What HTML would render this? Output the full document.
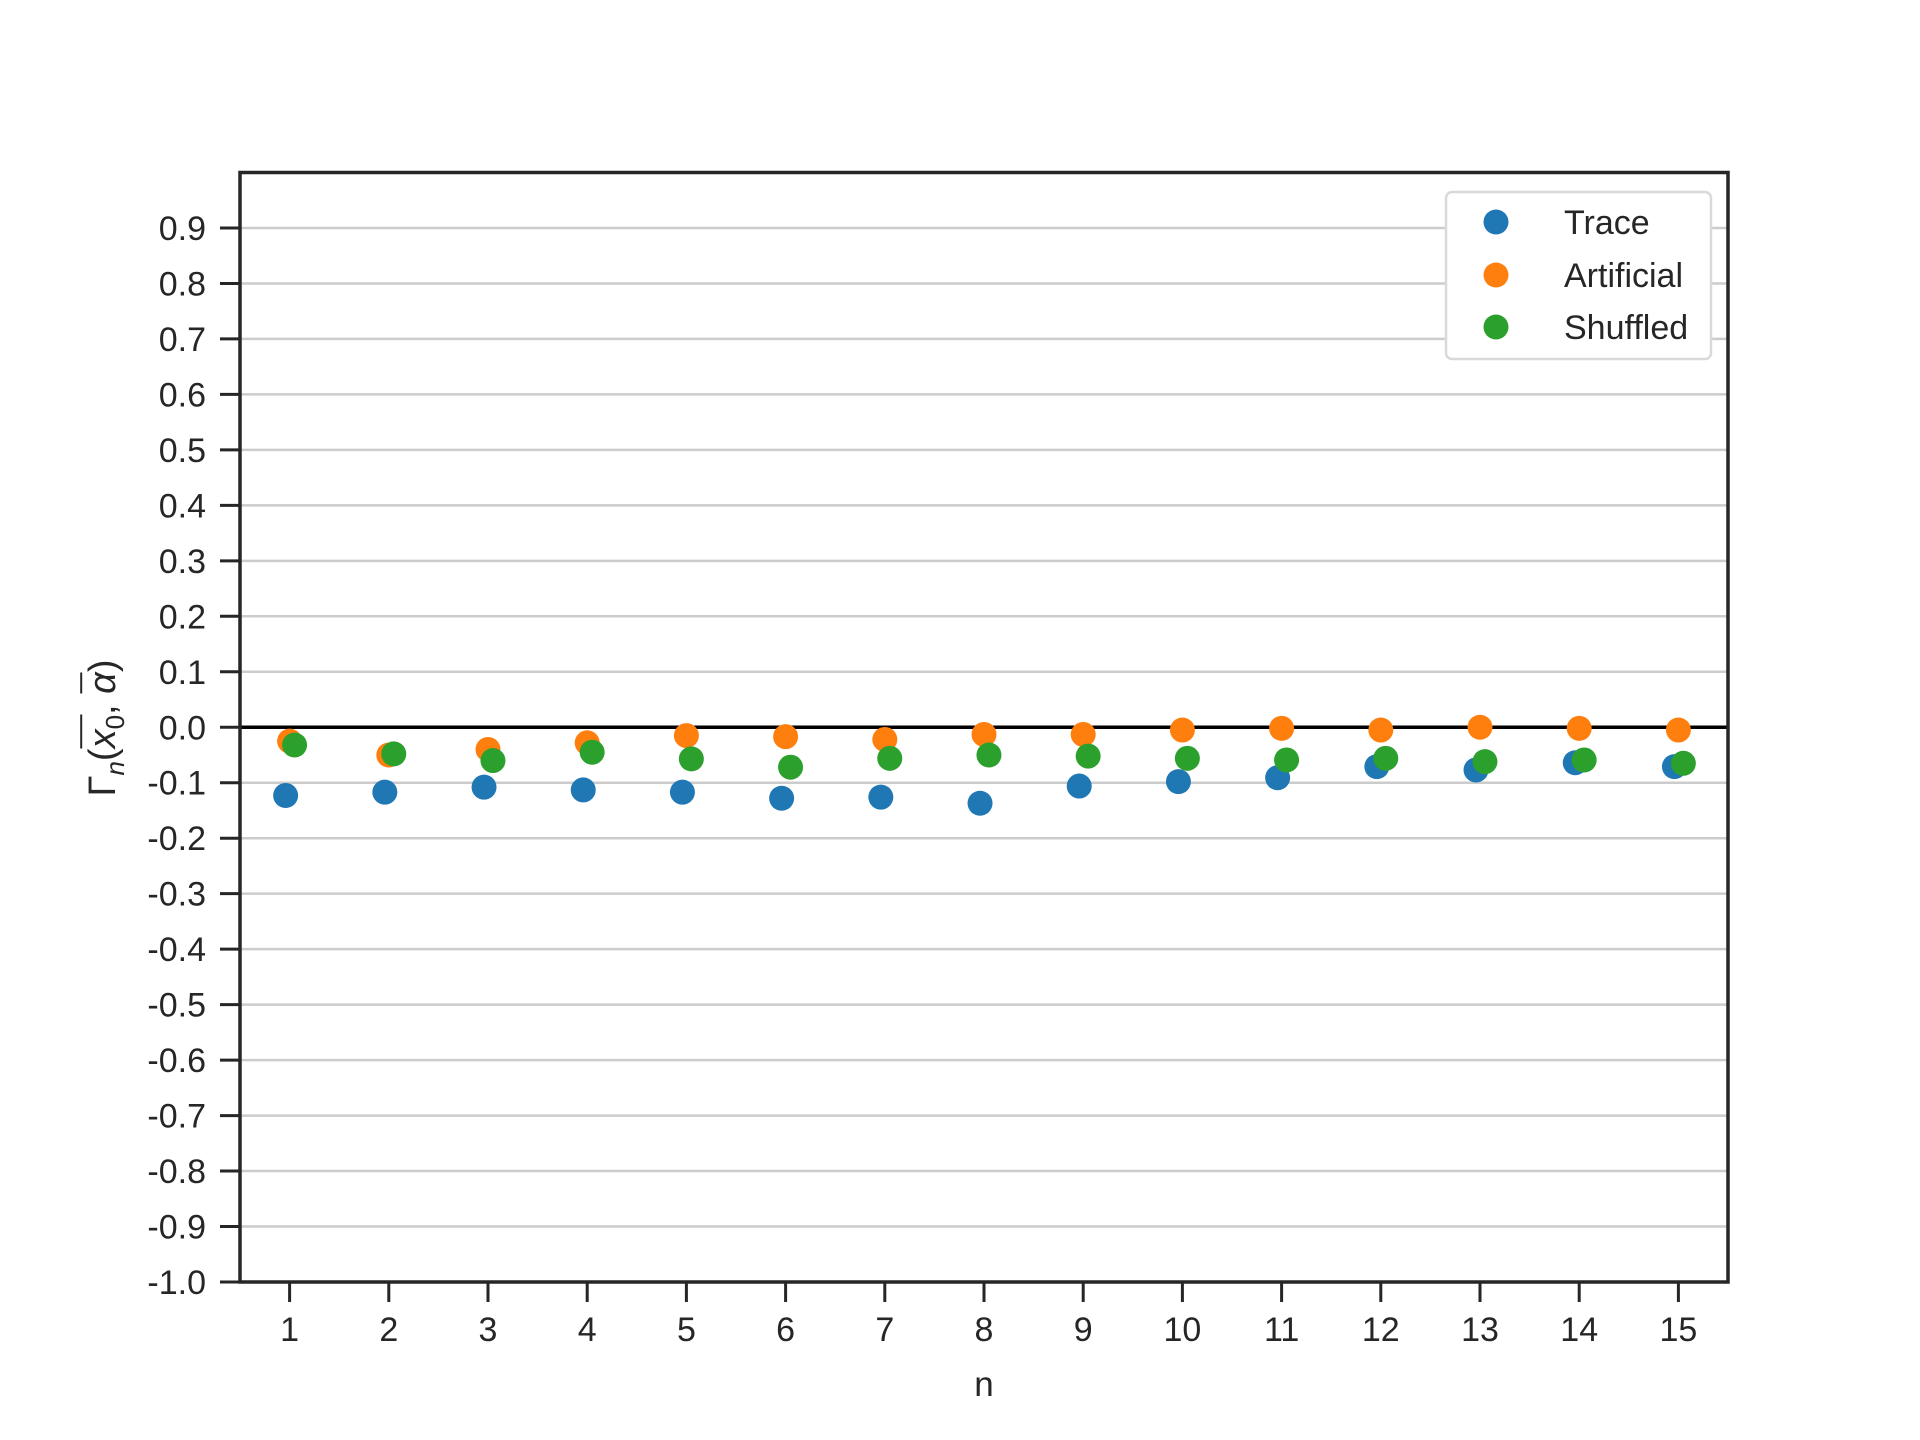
<!DOCTYPE html>
<html><head><meta charset="utf-8"><style>
body{margin:0;background:#fff;}
svg{display:block;font-family:"Liberation Sans",sans-serif;}
#ylab{position:absolute;left:104px;top:728px;transform:translate(-50%,-50%) rotate(-90deg);font-family:"Liberation Sans","DejaVu Sans",sans-serif;font-size:38px;color:#262626;white-space:nowrap;line-height:1;}
.ov{display:inline-block;border-top:2.5px solid #262626;padding-top:2px;font-style:italic;line-height:1;}
</style></head><body>
<div style="position:relative;width:1920px;height:1440px;">
<svg id="chart" width="1920" height="1440"></svg>
<div id="ylab">Γ<sub style="font-style:italic;font-size:26px">n</sub>(<span class="ov">x<sub style="font-size:26px;font-style:normal">0</sub></span>, <span class="ov">α</span>)</div>
</div>
<script>
const categories=[1,2,3,4,5,6,7,8,9,10,11,12,13,14,15];
const traceVals=[-0.123,-0.117,-0.108,-0.113,-0.117,-0.128,-0.126,-0.137,-0.106,-0.098,-0.091,-0.071,-0.077,-0.064,-0.071];
const artificialVals=[-0.025,-0.05,-0.04,-0.028,-0.015,-0.017,-0.022,-0.013,-0.013,-0.005,-0.002,-0.005,0.0,-0.002,-0.005];
const shuffledVals=[-0.032,-0.048,-0.06,-0.045,-0.057,-0.072,-0.056,-0.05,-0.052,-0.056,-0.059,-0.056,-0.062,-0.059,-0.065];
const yTicks=[0.9,0.8,0.7,0.6,0.5,0.4,0.3,0.2,0.1,0.0,-0.1,-0.2,-0.3,-0.4,-0.5,-0.6,-0.7,-0.8,-0.9,-1.0];
const seriesNames=["Trace","Artificial","Shuffled"];

const L=240,R=1728,T=172.5,B=1282;
const x=v=>L+(v-0.5)/15*(R-L);
const y=v=>B-(v+1)/2*(B-T);
const svg=document.getElementById('chart');
const NS="http://www.w3.org/2000/svg";
function mk(tag,attrs,parent){const e=document.createElementNS(NS,tag);for(const k in attrs)e.setAttribute(k,attrs[k]);(parent||svg).appendChild(e);return e;}

yTicks.forEach(t=>{
  const g=mk('line',{x1:L,x2:R,y1:y(t),y2:y(t),stroke:'#cccccc','stroke-width':2.5});
  
  
  const tk=mk('line',{x1:L-20,x2:L,y1:y(t),y2:y(t),stroke:'#262626','stroke-width':3});
  
  
  const tx=mk('text',{x:L-34,y:y(t)+12,'text-anchor':'end','font-size':34,fill:'#262626'});
  tx.textContent=t.toFixed(1);
  
  
});
categories.forEach(c=>{
  const tk=mk('line',{x1:x(c),x2:x(c),y1:B,y2:B+20,stroke:'#262626','stroke-width':3});
  
  
  const tx=mk('text',{x:x(c),y:B+59,'text-anchor':'middle','font-size':34,fill:'#262626'});
  tx.textContent=c;
  
  
});
const zl=mk('line',{x1:L,x2:R,y1:y(0),y2:y(0),stroke:'#000','stroke-width':3.5});



const colors=['#1f77b4','#ff7f0e','#2ca02c'];
const offs=[-0.04,0,0.05];
[traceVals,artificialVals,shuffledVals].forEach((vals,si)=>{
  vals.forEach((v,i)=>{
    const c=mk('circle',{cx:x(categories[i]+offs[si]),cy:y(v),r:12.5,fill:colors[si]});
    
    
  });
});
const fr=mk('rect',{x:L,y:T,width:R-L,height:B-T,fill:'none',stroke:'#262626','stroke-width':3.5});



const xl=mk('text',{x:984,y:1396,'text-anchor':'middle','font-size':35,fill:'#262626'});
xl.textContent='n';



const lg=mk('rect',{x:1446,y:192,width:265,height:167,rx:6,fill:'#fff',stroke:'#d9d9d9','stroke-width':2.5});


const rows=[222,275,327];
seriesNames.forEach((n,i)=>{
  const c=mk('circle',{cx:1496,cy:rows[i],r:12.5,fill:colors[i]});
  
  
  const t=mk('text',{x:1564,y:rows[i]+12,'font-size':34,fill:'#262626'});
  t.textContent=n;
  
  
});
</script>
</body></html>
